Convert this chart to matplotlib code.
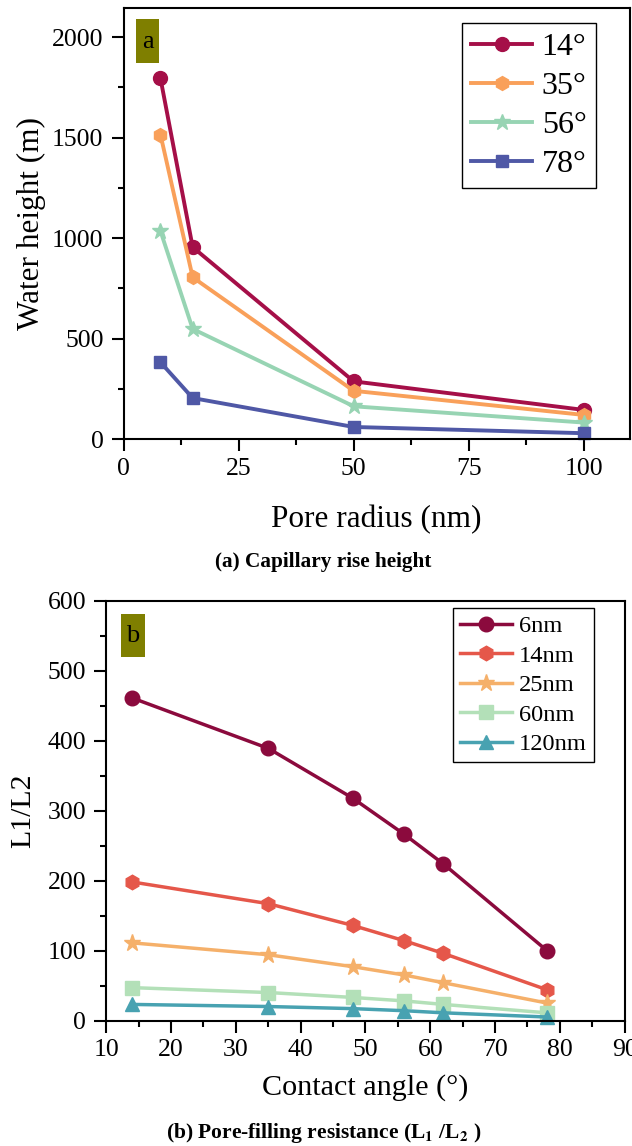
import matplotlib
matplotlib.use("Agg")
import matplotlib.pyplot as plt
from matplotlib.patches import Rectangle
from matplotlib.ticker import MultipleLocator

plt.rcParams['font.family'] = ['Liberation Serif', 'DejaVu Serif']
plt.rcParams['mathtext.fontset'] = 'stix'

# ---- Data: panel (a) ----
pore_radius = [8, 15, 50, 100]
angle_labels = ['14°', '35°', '56°', '78°']
h_14 = [1795, 955, 287, 145]
h_35 = [1515, 805, 240, 120]
h_56 = [1035, 548, 163, 82]
h_78 = [382, 204, 60, 29]

# ---- Data: panel (b) ----
contact_angle = [14, 35, 48, 56, 62, 78]
radius_labels = ['6nm', '14nm', '25nm', '60nm', '120nm']
r_6 = [461, 389, 318, 266, 224, 100]
r_14 = [198, 167, 136, 114, 96, 44]
r_25 = [111, 94, 77, 65, 54, 25]
r_60 = [47, 40, 33, 28, 23, 11]
r_120 = [23, 20, 17, 14, 11, 5]

fig = plt.figure(figsize=(6.32, 11.46), dpi=100)

def style_axes(ax):
    for s in ax.spines.values():
        s.set_linewidth(1.5)
    ax.tick_params(which='both', direction='out', top=False, right=False, width=1.5)
    ax.tick_params(which='major', length=8.5, labelsize=18.5)
    ax.tick_params(axis='x', which='major', pad=5)
    ax.tick_params(axis='y', which='major', pad=6)
    ax.tick_params(which='minor', length=4.5)

# ---------- Panel a ----------
ax1 = fig.add_axes([0.1957, 0.6169, 0.8005, 0.3761])
cols_a = ['#a50f48', '#f9a05a', '#97d4b3', '#4f58a6']
marks_a = ['o', 'h', '*', 's']
sizes_a = [10, 10, 12, 9]
for ys, c, m, ms, lab in zip([h_14, h_35, h_56, h_78], cols_a, marks_a, sizes_a, angle_labels):
    ax1.plot(pore_radius, ys, color=c, marker=m, markersize=ms, linewidth=2.8, label=lab, clip_on=False)
ax1.set_xlim(0, 110)
ax1.set_ylim(0, 2145)
ax1.xaxis.set_major_locator(MultipleLocator(25))
ax1.xaxis.set_minor_locator(MultipleLocator(12.5))
ax1.yaxis.set_major_locator(MultipleLocator(500))
ax1.yaxis.set_minor_locator(MultipleLocator(250))
style_axes(ax1)
ax1.set_xlabel('Pore radius (nm)', fontsize=22.5, labelpad=18)
ax1.set_ylabel('Water height (m)', fontsize=22.5, labelpad=4)
leg1 = ax1.legend(loc='upper right', bbox_to_anchor=(0.934, 0.965), borderaxespad=0,
                  fontsize=23, handlelength=1.9, fancybox=False, edgecolor='black',
                  framealpha=1, labelspacing=0.3, handletextpad=0.3, borderpad=0.3)
leg1.get_frame().set_linewidth(1.0)
ax1.add_patch(Rectangle((0.024, 0.872), 0.046, 0.102, transform=ax1.transAxes,
                        facecolor='#7f7f00', edgecolor='none', zorder=5))
ax1.text(0.047, 0.921, 'a', transform=ax1.transAxes, fontsize=19, ha='center', va='center', zorder=6)

fig.text(0.512, 0.51, '(a) Capillary rise height', fontsize=15.3, fontweight='bold',
         ha='center', va='center')

# ---------- Panel b ----------
ax2 = fig.add_axes([0.1682, 0.1095, 0.8202, 0.3663])
cols_b = ['#8b0a3d', '#e5574a', '#f5b06a', '#b3e0b8', '#48a2b1']
marks_b = ['o', 'h', '*', 's', '^']
sizes_b = [10.5, 10.5, 12.5, 9.5, 10.5]
for ys, c, m, ms, lab in zip([r_6, r_14, r_25, r_60, r_120], cols_b, marks_b, sizes_b, radius_labels):
    ax2.plot(contact_angle, ys, color=c, marker=m, markersize=ms, linewidth=2.5, label=lab, clip_on=False)
ax2.set_xlim(10, 90)
ax2.set_ylim(0, 600)
ax2.xaxis.set_major_locator(MultipleLocator(10))
ax2.xaxis.set_minor_locator(MultipleLocator(5))
ax2.yaxis.set_major_locator(MultipleLocator(100))
ax2.yaxis.set_minor_locator(MultipleLocator(50))
style_axes(ax2)
ax2.set_xlabel('Contact angle (°)', fontsize=21.7, labelpad=9)
ax2.set_ylabel('L1/L2', fontsize=21.5, labelpad=8)
leg2 = ax2.legend(loc='upper right', bbox_to_anchor=(0.941, 0.983), borderaxespad=0,
                  fontsize=17.6, handlelength=2.1, fancybox=False, edgecolor='black',
                  framealpha=1, labelspacing=0.3, handletextpad=0.3, borderpad=0.3)
leg2.get_frame().set_linewidth(1.0)
ax2.add_patch(Rectangle((0.028, 0.867), 0.047, 0.101, transform=ax2.transAxes,
                        facecolor='#7f7f00', edgecolor='none', zorder=5))
ax2.text(0.0515, 0.915, 'b', transform=ax2.transAxes, fontsize=19, ha='center', va='center', zorder=6)

fig.text(0.512, 0.0113, r'(b) Pore-filling resistance (L$_{\mathbf{1}}$ /L$_{\mathbf{2}}$ )',
         fontsize=15.5, fontweight='bold', ha='center', va='center')

fig.savefig('out.png', dpi=100)
